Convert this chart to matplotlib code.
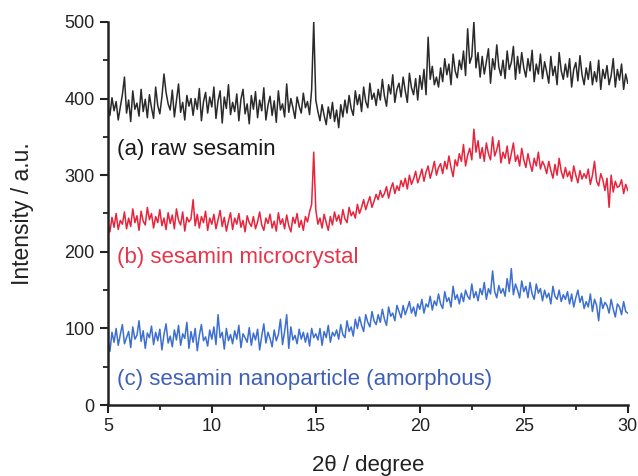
import numpy as np
import matplotlib
matplotlib.use("Agg")
import matplotlib.pyplot as plt
from matplotlib.ticker import MultipleLocator

plt.rcParams['font.family'] = ['Liberation Sans', 'DejaVu Sans']

two_theta = [round(5 + 0.1 * i, 1) for i in range(251)]

raw_sesamin = [
    392, 378, 401, 384, 396, 372, 389, 405, 428, 381,
    398, 370, 410, 386, 394, 377, 412, 383, 399, 375,
    405, 388, 374, 415, 391, 380, 402, 432, 408, 393,
    385, 411, 376, 398, 419, 382, 395, 372, 404, 390,
    400, 378, 400, 386, 413, 371, 396, 408, 381, 402,
    389, 415, 374, 397, 410, 368, 402, 387, 418, 379,
    395, 383, 406, 371, 399, 412, 380, 393, 367, 404,
    386, 409, 375, 398, 384, 414, 372, 391, 403, 378,
    397, 369, 410, 385, 393, 376, 419, 382, 400, 388,
    374, 402, 390, 381, 407, 388, 396, 379, 412, 500,
    398, 383, 371, 392, 378, 366, 389, 374, 395, 370,
    385, 362, 392, 376, 398, 381, 404, 387, 378, 410,
    392, 405, 383, 415, 396, 388, 420, 399, 407, 391,
    412, 398, 425, 403, 390, 418, 406, 431, 395, 412,
    420, 402, 428, 410, 395, 433, 414, 405, 426, 398,
    430, 412, 438, 405, 480, 425, 442, 418, 428, 415,
    440, 422, 452, 431, 445, 418, 458, 436, 427, 450,
    438, 462, 430, 491, 446, 455, 500, 440, 460, 428,
    455, 432, 448, 465, 420, 452, 438, 470, 441, 430,
    450, 426, 462, 438, 447, 468, 425, 455, 433, 460,
    440, 428, 452, 436, 463, 422, 445, 432, 458, 426,
    448, 435, 420, 455, 430, 442, 418, 460, 436, 425,
    445, 428, 452, 415, 438, 447, 423, 456, 431, 418,
    440, 425, 448, 418, 435, 422, 450, 412, 438, 426,
    443, 418, 430, 452, 415, 438, 424, 445, 412, 432,
    420,
]

microcrystal = [
    238, 226, 245, 232, 250, 229, 241, 236, 252, 230,
    244, 233, 256, 238, 247, 228, 253, 240, 235, 258,
    242, 250, 231, 246, 238, 255, 234, 244, 229, 251,
    237, 248, 230, 256, 241, 235, 252, 227, 245, 239,
    243, 268, 234, 249, 231, 246, 238, 253, 228, 244,
    236, 249, 230, 242, 254, 233, 245, 227, 240, 251,
    229, 244, 236, 250, 232, 241, 226, 247, 238, 233,
    246, 230, 239, 252, 235, 228, 244, 237, 249, 231,
    240, 227, 251, 236, 243, 230, 248, 234, 226, 245,
    237, 250, 232, 241, 228, 246, 239, 252, 262, 330,
    255, 236, 244, 231, 249, 238, 228, 246, 235, 252,
    240, 248, 236, 255, 243, 238, 258, 247, 252, 244,
    262, 250, 258, 268, 255, 264, 272, 258, 266, 275,
    268, 280, 271, 276, 285, 270, 282, 290, 276, 286,
    280, 293, 285, 296, 282, 300, 288, 295, 305, 290,
    298, 308, 292, 304, 312, 296, 306, 318, 300, 310,
    315, 302, 318, 308, 325, 310, 298, 320, 312, 328,
    318, 340, 312, 326, 335, 320, 360, 330, 345, 322,
    336, 318, 342, 328, 320, 350, 325, 333, 345, 316,
    330, 322, 338, 315, 328, 342, 318, 326, 312, 335,
    320, 310, 328, 315, 305, 322, 312, 330, 308, 318,
    312, 302, 318, 306, 296, 314, 300, 322, 305, 296,
    310, 298, 305, 292, 312, 300, 290, 306, 295, 302,
    296, 308, 288, 300, 318, 292, 286, 302, 294, 280,
    296, 258, 300, 278, 292, 284, 286, 294, 276, 288,
    280,
]

nanoparticle = [
    85, 70, 95, 82, 100, 78, 92, 105, 80, 88,
    96, 75, 102, 86, 91, 110, 83, 97, 74, 94,
    88, 103, 79, 95, 84, 99, 72, 92, 106, 81,
    90, 76, 98, 85, 104, 78, 93, 87, 108, 74,
    96, 82, 100, 71, 91, 105, 84, 89, 77, 98,
    86, 102, 79, 118, 88, 95, 73, 100, 84, 92,
    80, 97, 86, 104, 75, 93, 88, 82, 101, 78,
    94, 85, 99, 72, 90, 106, 81, 95, 87, 76,
    98, 84, 92, 112, 79, 96, 118, 74, 102, 85,
    91, 80, 99, 86, 95, 82, 94, 77, 100, 88,
    93, 85, 100, 78, 96, 88, 104, 82, 95, 90,
    98, 86, 105, 92, 88, 110, 96, 102, 90, 112,
    100, 115, 104, 96, 118, 108, 102, 122, 110, 105,
    118, 108, 125, 112, 104, 128, 116, 120, 110, 130,
    122, 114, 130, 118, 126, 135, 120, 128, 116, 132,
    125, 138, 120, 132, 128, 142, 124, 136, 130, 145,
    132, 126, 148, 135, 140, 128, 155, 138, 144, 132,
    146, 135, 150, 142, 138, 158, 140, 148, 136, 152,
    144, 160, 138, 152, 145, 175, 148, 140, 156, 146,
    152, 142, 165, 148, 178, 144, 158, 150, 140, 162,
    148, 155, 140, 160, 145, 138, 158, 146, 152, 136,
    150, 140, 146, 132, 155, 142, 138, 150, 135, 144,
    138, 148, 132, 145, 128, 140, 150, 134, 142, 126,
    135, 128, 145, 122, 138, 130, 110, 140, 126, 134,
    130, 120, 138, 125, 115, 132, 128, 118, 135, 122,
    120,
]

labels = ["(a) raw sesamin", "(b) sesamin microcrystal",
          "(c) sesamin nanoparticle (amorphous)"]
label_y = [333, 192, 33]
line_colors = ["#2a2a2a", "#e8243c", "#3d6fd0"]
text_colors = ["#1a1a1a", "#e8344a", "#3f5fb8"]

fig = plt.figure(figsize=(6.38, 4.76), dpi=100)
ax = fig.add_axes([0.169, 0.149, 0.815, 0.805])

for ys, c in zip([raw_sesamin, microcrystal, nanoparticle], line_colors):
    ax.plot(two_theta, ys, color=c, lw=1.1)

for t, yv, c in zip(labels, label_y, text_colors):
    ax.text(5.45, yv, t, color=c, fontsize=16, va='center', ha='left')

ax.set_xlim(5, 30)
ax.set_ylim(0, 500)
ax.xaxis.set_major_locator(MultipleLocator(5))
ax.xaxis.set_minor_locator(MultipleLocator(2.5))
ax.yaxis.set_major_locator(MultipleLocator(100))
ax.yaxis.set_minor_locator(MultipleLocator(50))
for s in ['top', 'right']:
    ax.spines[s].set_visible(False)
for s in ['left', 'bottom']:
    ax.spines[s].set_linewidth(1.8)
    ax.spines[s].set_color('#222222')
ax.tick_params(which='major', direction='out', length=6, width=1.5, labelsize=13, colors='#222222')
ax.tick_params(which='minor', direction='out', length=3.5, width=1.3, colors='#222222')
ax.set_xlabel("2θ / degree", fontsize=16, color='#222222', labelpad=14)
ax.set_ylabel("Intensity / a.u.", fontsize=16.5, color='#222222', labelpad=22)

fig.savefig("out.png", dpi=100)
